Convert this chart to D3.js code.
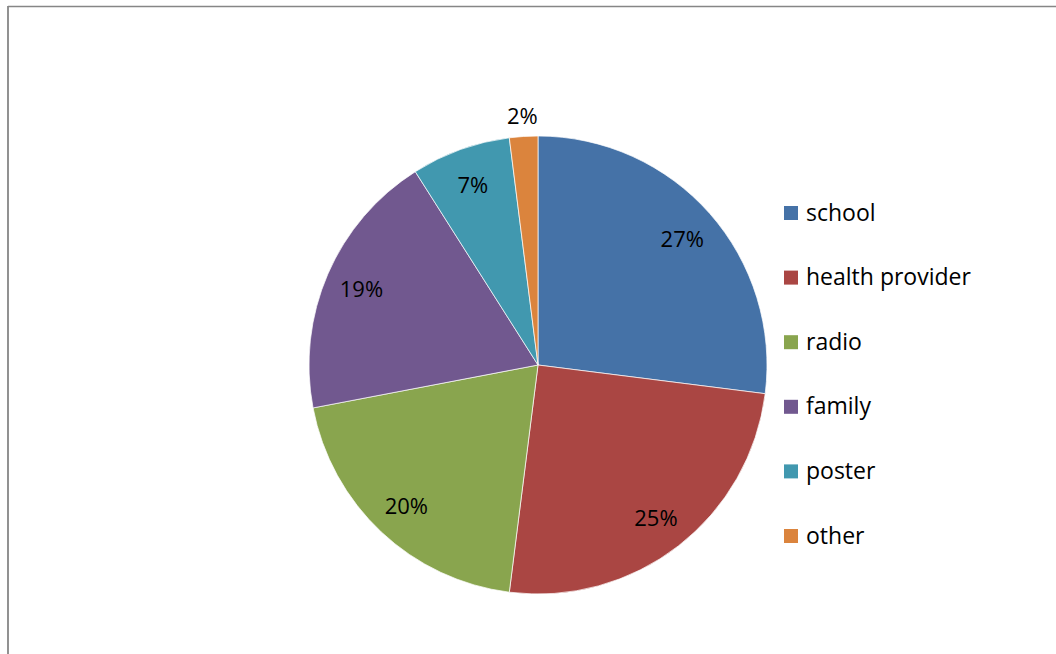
<!DOCTYPE html>
<html lang="en">
<head>
<meta charset="UTF-8">
<title>Pie Chart</title>
<script src="https://d3js.org/d3.v7.min.js"></script>
<style>
  body { margin: 0; background: #fff; }
  text { font-family: "Open Sans", "Noto Sans", sans-serif; fill: #000; }
</style>
</head>
<body>
<svg id="chart" width="1056" height="654"></svg>
<script>
const categories = ["school", "health provider", "radio", "family", "poster", "other"];
const values = [27, 25, 20, 19, 7, 2];
const colors = ["#4572A7", "#AA4643", "#89A54E", "#71588F", "#4198AF", "#DB843D"];

const width = 1056, height = 654;
const cx = 538, cy = 365, radius = 229;

const svg = d3.select("#chart");

// chart frame (only left and top edges are inside the picture)
svg.append("line").attr("x1", 8).attr("y1", 6.5).attr("x2", width).attr("y2", 6.5)
  .attr("stroke", "#868686").attr("stroke-width", 1.5);
svg.append("line").attr("x1", 8).attr("y1", 6).attr("x2", 8).attr("y2", height)
  .attr("stroke", "#868686").attr("stroke-width", 1.8);

const pie = d3.pie().sort(null).value(d => d.value);
const data = categories.map((c, i) => ({ name: c, value: values[i], color: colors[i] }));
const arcs = pie(data);

const arc = d3.arc().innerRadius(0).outerRadius(radius);
const labelArc = d3.arc().innerRadius(radius * 0.84).outerRadius(radius * 0.84);
const outerLabelArc = d3.arc().innerRadius(radius + 21).outerRadius(radius + 21);

const g = svg.append("g").attr("transform", `translate(${cx},${cy})`);

g.selectAll("path")
  .data(arcs)
  .enter()
  .append("path")
  .attr("d", arc)
  .attr("fill", d => d.data.color)
  .attr("stroke", "#fff")
  .attr("stroke-width", 0.7);

// small slices get their label outside the pie
g.selectAll("text.pct")
  .data(arcs)
  .enter()
  .append("text")
  .attr("class", "pct")
  .attr("transform", d => {
    const p = d.data.value < 5 ? outerLabelArc.centroid(d) : labelArc.centroid(d);
    return `translate(${p[0]},${p[1]})`;
  })
  .attr("text-anchor", "middle")
  .attr("dy", "0.4em")
  .style("font-size", "22px")
  .text(d => d.data.value + "%");

// legend
const legend = svg.append("g").attr("transform", "translate(784,206)");
const item = legend.selectAll("g")
  .data(data)
  .enter()
  .append("g")
  .attr("transform", (d, i) => `translate(0,${i * 64.6})`);

item.append("rect")
  .attr("width", 14).attr("height", 14)
  .attr("fill", d => d.color);

item.append("text")
  .attr("x", 22).attr("y", 14.5)
  .style("font-size", "23px")
  .text(d => d.name);
</script>
</body>
</html>
